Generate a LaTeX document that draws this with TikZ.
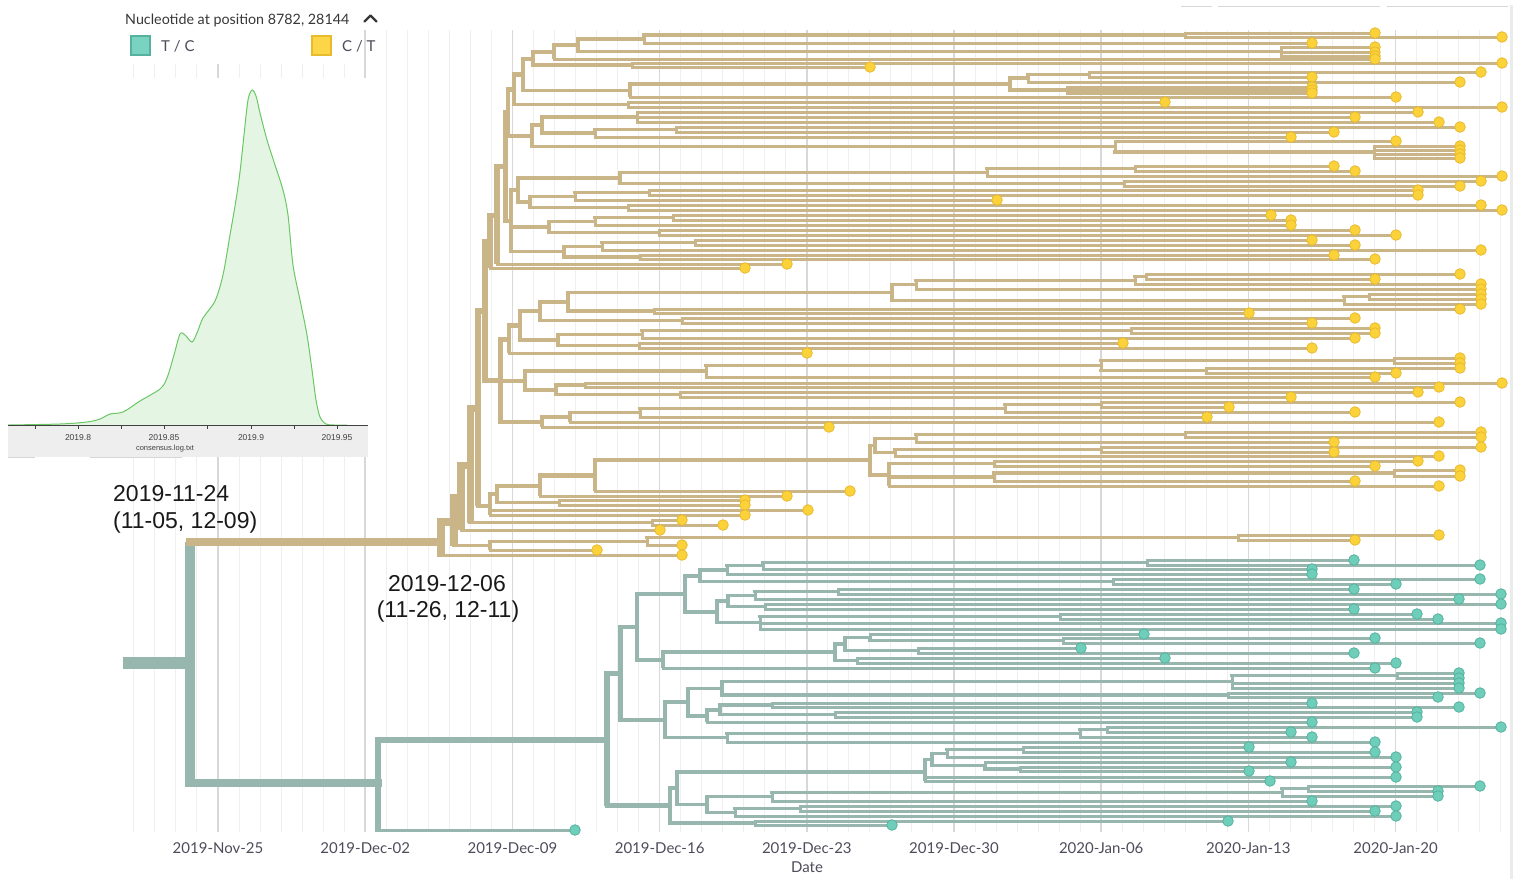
\documentclass[tikz,border=0pt]{standalone}
\usepackage{fontspec}
\newfontfamily\latofam{Lato}
\newfontfamily\arialfam{Liberation Sans}
\pgfdeclarelayer{dots}
\pgfsetlayers{main,dots}
\definecolor{tanc}{RGB}{201,181,135}
\definecolor{tealc}{RGB}{151,182,174}
\definecolor{ydotf}{RGB}{252,210,58}
\definecolor{ydotd}{RGB}{232,186,45}
\definecolor{tdotf}{RGB}{110,206,185}
\definecolor{tdotd}{RGB}{84,178,158}
\definecolor{gridminor}{RGB}{239,239,239}
\definecolor{gridmajor}{RGB}{216,216,216}
\definecolor{axtext}{RGB}{78,76,90}
\definecolor{headtext}{RGB}{55,55,55}
\definecolor{plotfill}{RGB}{229,245,227}
\definecolor{plotline}{RGB}{105,200,100}
\definecolor{axbar}{RGB}{238,238,238}
\definecolor{legT}{RGB}{122,211,192}
\definecolor{legY}{RGB}{253,214,72}
\newcommand\axfont{\latofam\fontsize{15}{18}\selectfont}
\newcommand\annfont{\arialfam\fontsize{23}{27}\selectfont}
\newcommand\TipB[4]{\draw[#1br] (#2,#4) -- (#3,#4);\begin{pgfonlayer}{dots}\draw[#1dot] (#3,#4) circle[radius=5.3pt];\end{pgfonlayer}}
\newcommand\HorB[5]{\draw[#1br, line width={(#2+0.2)*1pt}] (#3,#5) -- (#4,#5);}
\newcommand\VerB[5]{\draw[#1br, line cap=butt, line width={(#2)*1pt}] (#3,#4) -- (#3,#5);}
\tikzset{
 Ybr/.style={draw=tanc, line width=3pt, line cap=rect},
 Tbr/.style={draw=tealc, line width=3pt, line cap=rect},
 Ydot/.style={fill=ydotf, draw=ydotd, line width=0.8pt},
 Tdot/.style={fill=tdotf, draw=tdotd, line width=0.8pt},
 gmin/.style={draw=gridminor, line width=1pt},
 gmaj/.style={draw=gridmajor, line width=1.6pt},
 axlab/.style={font=\axfont, text=axtext, inner sep=0pt},
 ann/.style={font=\annfont, text=black!90, inner sep=0pt},
 small/.style={font=\arialfam\fontsize{8.5}{10}\selectfont, text=black!75, inner sep=0pt},
}
\begin{document}
\begin{tikzpicture}[x=1pt,y=-1pt]
\useasboundingbox (0,0) rectangle (1519,879);
\fill[white] (0,0) rectangle (1519,879);
% ---------- grid ----------
\foreach \k in {-4,...,61}{\pgfmathsetmacro\gx{218+21.028*\k}\draw[gmin] (\gx,30) -- (\gx,832);}
\foreach \k in {0,...,8}{\pgfmathsetmacro\gx{218+147.2*\k}\draw[gmaj] (\gx,30) -- (\gx,832);}
\draw[draw=black!8, line width=3pt] (1511,5) -- (1511,879);
\draw[draw=black!16, line width=1pt] (1181,6) -- (1212,6) (1218,6) -- (1380,6) (1387,6) -- (1508,6);
% axis labels
\foreach \lab [count=\i from 0] in {2019-Nov-25,2019-Dec-02,2019-Dec-09,2019-Dec-16,2019-Dec-23,2019-Dec-30,2020-Jan-06,2020-Jan-13,2020-Jan-20}
 {\node[axlab, anchor=base] (ax\i) at ({218+147.2*\i},853) {\lab};}
\node[axlab, anchor=base] (datelab) at (807,872) {Date};
% ---------- inset ----------
\fill[white] (110,28) rectangle (362,64);
\fill[white] (8,78) rectangle (368,425);
\fill[plotfill] plot[smooth, tension=0.5] coordinates {(8,425) (60,424) (87,422) (100,419) (110,414) (123,412) (140,401) (160,389) (167,378) (174,355) (180,334) (185,335) (192,342) (197,333) (203,318) (215,301) (223,275) (230,235) (236,200) (240,172) (244,135) (248,100) (252,90) (256,96) (260,113) (267,140) (275,165) (283,190) (288,215) (293,265) (300,300) (307,335) (312,370) (316,400) (320,417) (326,424) (334,425) (347,425)} -- cycle;
\draw[plotline, line width=1pt] plot[smooth, tension=0.5] coordinates {(8,425) (60,424) (87,422) (100,419) (110,414) (123,412) (140,401) (160,389) (167,378) (174,355) (180,334) (185,335) (192,342) (197,333) (203,318) (215,301) (223,275) (230,235) (236,200) (240,172) (244,135) (248,100) (252,90) (256,96) (260,113) (267,140) (275,165) (283,190) (288,215) (293,265) (300,300) (307,335) (312,370) (316,400) (320,417) (326,424) (334,425) (347,425)};
\fill[axbar] (8,425.5) rectangle (368,457);
\draw[black!75, line width=1pt] (8,425) -- (368,425);
\foreach \tx in {35,78,121,164,207,251,294,337}{\draw[black!75, line width=0.8pt] (\tx,425) -- (\tx,428.5);}
\foreach \tl/\tx in {2019.8/78,2019.85/164,2019.9/251,2019.95/337}{\node[small, anchor=base] (t\tx) at (\tx,440) {\tl};}
\node[small, anchor=base, font=\arialfam\fontsize{7.5}{9}\selectfont] (cons) at (165,450) {consensus.log.txt};
\draw[draw=black!16, line width=1.5pt] (8,457.5) -- (35,457.5) (90,457.5) -- (182,457.5);
\node[anchor=base west, inner sep=0pt, text=headtext, font=\latofam\fontsize{14.3}{16}\selectfont] (hdr) at (125,24) {Nucleotide at position 8782, 28144};
\draw[headtext, line width=2.4pt, line cap=round, line join=round] (364.5,21.5) -- (370.5,15.5) -- (376.5,21.5);
\node[draw=tdotd, fill=legT, minimum size=19pt, inner sep=0pt, line width=1.2pt] (sqT) at (140.5,45.5) {};
\node[anchor=base west, inner sep=0pt, text=axtext, font=\latofam\fontsize{15}{17}\selectfont] (labT) at (161,51) {T / C};
\node[draw=ydotd, fill=legY, minimum size=19pt, inner sep=0pt, line width=1.2pt] (sqY) at (321.5,45.5) {};
\node[anchor=base west, inner sep=0pt, text=axtext, font=\latofam\fontsize{15}{17}\selectfont] (labY) at (342,51) {C / T};
% ---------- yellow clade: group A ----------
\TipB{Y}{1185}{1375}{33}\TipB{Y}{1185}{1502}{37}\VerB{Y}{3}{1185}{33}{37}
\HorB{Y}{3}{644}{1185}{35}\TipB{Y}{644}{1312}{43}\VerB{Y}{3}{644}{35}{43}
\TipB{Y}{1281}{1375}{47}\TipB{Y}{1281}{1375}{52}\TipB{Y}{1281}{1375}{56}\VerB{Y}{3}{1281}{47}{56}
\HorB{Y}{3}{578}{644}{39}\HorB{Y}{3}{578}{1281}{51.5}\VerB{Y}{3.5}{578}{39}{51.5}
\HorB{Y}{3.5}{554}{578}{45}\TipB{Y}{554}{1375}{59}\VerB{Y}{3.5}{554}{45}{59}
\TipB{Y}{632}{1502}{63}\TipB{Y}{632}{870}{67}\VerB{Y}{3}{632}{63}{67}
\HorB{Y}{3.5}{533}{554}{52}\HorB{Y}{3}{533}{632}{65}\VerB{Y}{3.8}{533}{52}{65}
\TipB{Y}{1089}{1481}{72}\TipB{Y}{1089}{1312}{77}\VerB{Y}{3}{1089}{72}{77}
\HorB{Y}{3}{1028}{1089}{74.5}\TipB{Y}{1028}{1460}{82}\VerB{Y}{3}{1028}{74.5}{82}
\TipB{Y}{1067}{1312}{87}\TipB{Y}{1067}{1312}{90}\TipB{Y}{1067}{1312}{93}\VerB{Y}{3}{1067}{87}{93}
\HorB{Y}{3}{1010}{1028}{78}\HorB{Y}{3}{1010}{1067}{90}\VerB{Y}{3.5}{1010}{78}{90}
\HorB{Y}{3.5}{630}{1010}{84}\TipB{Y}{630}{1396}{97}\VerB{Y}{3.5}{630}{84}{97}
\HorB{Y}{3.8}{523}{533}{58.5}\HorB{Y}{3.5}{523}{630}{90.5}\VerB{Y}{4}{523}{58.5}{90.5}
\TipB{Y}{628}{1165}{102}\TipB{Y}{628}{1502}{107}\VerB{Y}{3}{628}{102}{107}
\HorB{Y}{4}{514}{523}{74.5}\HorB{Y}{3}{514}{628}{104.5}\VerB{Y}{4.3}{514}{74.5}{104.5}
% group B
\TipB{Y}{637}{1418}{112}\TipB{Y}{637}{1355}{117}\TipB{Y}{637}{1439}{122}\VerB{Y}{3}{637}{112}{122}
\TipB{Y}{676}{1460}{127}\TipB{Y}{676}{1334}{132}\VerB{Y}{3}{676}{127}{132}
\HorB{Y}{3}{595}{676}{129.5}\TipB{Y}{595}{1291}{137}\VerB{Y}{3}{595}{129.5}{137}
\HorB{Y}{3}{542}{637}{117}\HorB{Y}{3}{542}{595}{133}\VerB{Y}{3.5}{542}{117}{133}
\TipB{Y}{1374}{1460}{146}\TipB{Y}{1374}{1460}{150}\TipB{Y}{1374}{1460}{154}\TipB{Y}{1374}{1460}{158}\VerB{Y}{3}{1374}{146}{158}
\TipB{Y}{1115}{1396}{141}\HorB{Y}{3}{1115}{1374}{152}\VerB{Y}{3}{1115}{141}{152}
\HorB{Y}{3.5}{532}{542}{125}\HorB{Y}{3}{532}{1115}{146.5}\VerB{Y}{4}{532}{125}{146.5}
\HorB{Y}{4.3}{508}{514}{89.5}\HorB{Y}{4}{508}{532}{135.75}\VerB{Y}{4.5}{508}{89.5}{135.75}
% group C
\TipB{Y}{1135}{1334}{166}\TipB{Y}{1135}{1355}{171}\VerB{Y}{3}{1135}{166}{171}
\HorB{Y}{3}{987}{1135}{168.5}\TipB{Y}{987}{1502}{176}\VerB{Y}{3}{987}{168.5}{176}
\TipB{Y}{1124}{1481}{181}\TipB{Y}{1124}{1460}{186}\VerB{Y}{3}{1124}{181}{186}
\HorB{Y}{3}{620}{987}{172.25}\HorB{Y}{3}{620}{1124}{183.5}\VerB{Y}{3.5}{620}{172.25}{183.5}
\TipB{Y}{649}{1418}{190}\TipB{Y}{649}{1418}{195}\VerB{Y}{3}{649}{190}{195}
\HorB{Y}{3}{575}{649}{192.5}\TipB{Y}{575}{997}{200}\VerB{Y}{3}{575}{192.5}{200}
\TipB{Y}{628}{1481}{205}\TipB{Y}{628}{1502}{210}\VerB{Y}{3}{628}{205}{210}
\HorB{Y}{3}{530}{575}{196.25}\HorB{Y}{3}{530}{628}{207.5}\VerB{Y}{3.5}{530}{196.25}{207.5}
\HorB{Y}{3.5}{518}{620}{177.9}\HorB{Y}{3.5}{518}{530}{201.9}\VerB{Y}{4}{518}{177.9}{201.9}
\TipB{Y}{673}{1271}{215}\TipB{Y}{673}{1291}{220}\VerB{Y}{3}{673}{215}{220}
\HorB{Y}{3}{595}{673}{217.5}\TipB{Y}{595}{1291}{225}\VerB{Y}{3}{595}{217.5}{225}
\TipB{Y}{659}{1355}{230}\TipB{Y}{659}{1396}{235}\VerB{Y}{3}{659}{230}{235}
\HorB{Y}{3}{549}{595}{221.25}\HorB{Y}{3}{549}{659}{232.5}\VerB{Y}{3.5}{549}{221.25}{232.5}
\TipB{Y}{695}{1312}{240}\TipB{Y}{695}{1355}{245}\VerB{Y}{3}{695}{240}{245}
\HorB{Y}{3}{602}{695}{242.5}\TipB{Y}{602}{1481}{250}\VerB{Y}{3}{602}{242.5}{250}
\TipB{Y}{640}{1334}{255}\TipB{Y}{640}{1375}{259}\VerB{Y}{3}{640}{255}{259}
\HorB{Y}{3}{564}{602}{246.25}\HorB{Y}{3}{564}{640}{257}\VerB{Y}{3.5}{564}{246.25}{257}
\HorB{Y}{4}{511}{518}{189.9}\HorB{Y}{3.5}{511}{549}{226.9}\HorB{Y}{3.5}{511}{564}{251.6}\VerB{Y}{4.3}{511}{189.9}{251.6}
% group D
\TipB{Y}{1146}{1460}{274}\TipB{Y}{1146}{1375}{279}\VerB{Y}{3}{1146}{274}{279}
\HorB{Y}{3}{1135}{1146}{276.5}\TipB{Y}{1135}{1481}{284}\VerB{Y}{3}{1135}{276.5}{284}
\HorB{Y}{3}{916}{1135}{280.25}\TipB{Y}{916}{1481}{289}\VerB{Y}{3}{916}{280.25}{289}
\TipB{Y}{1369}{1481}{294}\TipB{Y}{1369}{1481}{299}\VerB{Y}{3}{1369}{294}{299}
\HorB{Y}{3}{1344}{1369}{296.5}\TipB{Y}{1344}{1481}{304}\VerB{Y}{3}{1344}{296.5}{304}
\HorB{Y}{3}{892}{916}{284.6}\HorB{Y}{3}{892}{1344}{300.25}\VerB{Y}{3.5}{892}{284.6}{300.25}
\TipB{Y}{654}{1460}{309}\TipB{Y}{654}{1249}{313}\VerB{Y}{3}{654}{309}{313}
\HorB{Y}{3.5}{568}{892}{292.4}\HorB{Y}{3}{568}{654}{311}\VerB{Y}{3.5}{568}{292.4}{311}
\TipB{Y}{682}{1355}{318}\TipB{Y}{682}{1312}{323}\VerB{Y}{3}{682}{318}{323}
\HorB{Y}{3.5}{540}{568}{301.7}\HorB{Y}{3}{540}{682}{320.5}\VerB{Y}{3.8}{540}{301.7}{320.5}
\TipB{Y}{1131}{1375}{328}\TipB{Y}{1131}{1375}{333}\VerB{Y}{3}{1131}{328}{333}
\HorB{Y}{3}{642}{1131}{330.5}\TipB{Y}{642}{1355}{338}\VerB{Y}{3}{642}{330.5}{338}
\TipB{Y}{639}{1123}{343}\TipB{Y}{639}{1312}{348}\VerB{Y}{3}{639}{343}{348}
\HorB{Y}{3}{558}{642}{334.25}\HorB{Y}{3}{558}{639}{345.5}\VerB{Y}{3.5}{558}{334.25}{345.5}
\HorB{Y}{3.8}{520}{540}{311.1}\HorB{Y}{3.5}{520}{558}{339.9}\VerB{Y}{4.2}{520}{311.1}{339.9}
\HorB{Y}{4.2}{509}{520}{325.5}\TipB{Y}{509}{807}{353}\VerB{Y}{4.3}{509}{325.5}{353}
\TipB{Y}{1394}{1460}{358}\TipB{Y}{1394}{1460}{363}\VerB{Y}{3}{1394}{358}{363}
\TipB{Y}{1206}{1460}{368}\TipB{Y}{1206}{1396}{373}\VerB{Y}{3}{1206}{368}{373}
\HorB{Y}{3}{1101}{1394}{360.5}\HorB{Y}{3}{1101}{1206}{370.5}\VerB{Y}{3}{1101}{360.5}{370.5}
\HorB{Y}{3}{706}{1101}{365.5}\TipB{Y}{706}{1375}{377}\VerB{Y}{3}{706}{365.5}{377}
\TipB{Y}{585}{1502}{383}\TipB{Y}{585}{1439}{387}\VerB{Y}{3}{585}{383}{387}
\TipB{Y}{680}{1418}{392}\TipB{Y}{680}{1291}{397}\VerB{Y}{3}{680}{392}{397}
\HorB{Y}{3}{556}{585}{385}\HorB{Y}{3}{556}{680}{394.5}\VerB{Y}{3.5}{556}{385}{394.5}
\HorB{Y}{3.5}{525}{706}{371.25}\HorB{Y}{3.5}{525}{556}{389.75}\VerB{Y}{3.8}{525}{371.25}{389.75}
\TipB{Y}{1101}{1460}{402}\TipB{Y}{1101}{1229}{407}\VerB{Y}{3}{1101}{402}{407}
\HorB{Y}{3}{1005}{1101}{404.5}\TipB{Y}{1005}{1355}{412}\VerB{Y}{3}{1005}{404.5}{412}
\HorB{Y}{3}{640}{1005}{408.25}\TipB{Y}{640}{1207}{417}\VerB{Y}{3}{640}{408.25}{417}
\HorB{Y}{3}{570}{640}{412.6}\TipB{Y}{570}{1439}{422}\VerB{Y}{3.5}{570}{412.6}{422}
\HorB{Y}{3.5}{542}{570}{417.3}\TipB{Y}{542}{829}{427}\VerB{Y}{3.5}{542}{417.3}{427}
\HorB{Y}{4.3}{500}{509}{339.25}\HorB{Y}{3.8}{500}{525}{380.5}\HorB{Y}{3.5}{500}{542}{422.15}\VerB{Y}{5}{500}{339.25}{422.15}
% group E
\TipB{Y}{1185}{1481}{432}\TipB{Y}{1185}{1481}{437}\VerB{Y}{3}{1185}{432}{437}
\HorB{Y}{3}{916}{1185}{434.5}\TipB{Y}{916}{1334}{442}\VerB{Y}{3}{916}{434.5}{442}
\TipB{Y}{1101}{1481}{447}\TipB{Y}{1101}{1334}{452}\VerB{Y}{3}{1101}{447}{452}
\HorB{Y}{3}{895}{1101}{449.5}\TipB{Y}{895}{1439}{456}\VerB{Y}{3}{895}{449.5}{456}
\HorB{Y}{3}{875}{916}{438.25}\HorB{Y}{3}{875}{895}{452.75}\VerB{Y}{3.5}{875}{438.25}{452.75}
\TipB{Y}{994}{1418}{461}\TipB{Y}{994}{1375}{466}\VerB{Y}{3}{994}{461}{466}
\TipB{Y}{1394}{1460}{470}\TipB{Y}{1394}{1460}{476}\VerB{Y}{3}{1394}{470}{476}
\HorB{Y}{3}{994}{1394}{473}\TipB{Y}{994}{1355}{481}\VerB{Y}{3}{994}{473}{481}
\HorB{Y}{3}{889}{994}{463.5}\HorB{Y}{3}{889}{994}{477}\TipB{Y}{889}{1439}{486}\VerB{Y}{3.5}{889}{463.5}{486}
\HorB{Y}{3.5}{870}{875}{445.5}\HorB{Y}{3.5}{870}{889}{474.75}\VerB{Y}{4}{870}{445.5}{474.75}
\HorB{Y}{4}{595}{870}{460.1}\TipB{Y}{595}{850}{491}\VerB{Y}{4}{595}{460.1}{491}
\HorB{Y}{4}{540}{595}{475.5}\TipB{Y}{540}{787}{496}\VerB{Y}{4}{540}{475.5}{496}
\TipB{Y}{559}{745}{500}\TipB{Y}{559}{745}{505}\VerB{Y}{3}{559}{500}{505}
\HorB{Y}{4}{497}{540}{485.75}\HorB{Y}{3}{497}{559}{502.5}\VerB{Y}{4.2}{497}{485.75}{502.5}
\HorB{Y}{4.2}{490}{497}{494.1}\TipB{Y}{490}{808}{510}\TipB{Y}{490}{745}{515}\VerB{Y}{4.3}{490}{494.1}{515}
% bottom
\TipB{Y}{652}{682}{520}\TipB{Y}{652}{723}{525}\VerB{Y}{3}{652}{520}{525}
\TipB{Y}{1238}{1439}{535}\TipB{Y}{1238}{1355}{540}\VerB{Y}{3}{1238}{535}{540}
\HorB{Y}{3}{647}{1238}{537.5}\TipB{Y}{647}{682}{545}\VerB{Y}{3}{647}{537.5}{545}
\HorB{Y}{3}{490}{647}{541.25}\TipB{Y}{490}{597}{550}\VerB{Y}{3.2}{490}{541.25}{550}
% ladder
\HorB{Y}{4.5}{505}{508}{112.6}\HorB{Y}{4.3}{505}{511}{221}\VerB{Y}{5}{505}{112.6}{221}
\HorB{Y}{5}{497}{505}{166.8}\TipB{Y}{497}{787}{264}\VerB{Y}{5.2}{497}{166.8}{264}
\HorB{Y}{5.2}{490}{497}{215.4}\TipB{Y}{490}{745}{268}\VerB{Y}{5.5}{490}{215.4}{268}
\HorB{Y}{5.5}{485}{490}{241.7}\HorB{Y}{5}{485}{500}{380.5}\VerB{Y}{6}{485}{241.7}{380.5}
\HorB{Y}{6}{478}{485}{311.1}\HorB{Y}{4.3}{478}{490}{506}\VerB{Y}{6.5}{478}{311.1}{506}
\HorB{Y}{6.5}{470}{478}{408.5}\HorB{Y}{3}{470}{652}{522.5}\VerB{Y}{7}{470}{408.5}{522.5}
\HorB{Y}{7}{461}{470}{465.5}\TipB{Y}{461}{660}{530}\VerB{Y}{7.5}{461}{465.5}{530}
\HorB{Y}{7.5}{454}{461}{497.75}\HorB{Y}{3.2}{454}{490}{545.6}\VerB{Y}{8}{454}{497.75}{545.6}
\HorB{Y}{8}{441}{454}{521.6}\TipB{Y}{441}{682}{555}\VerB{Y}{8.5}{441}{521.6}{556.5}
% ---------- teal clade ----------
\TipB{T}{1147}{1354}{560}\TipB{T}{1147}{1480}{565}\VerB{T}{3}{1147}{560}{565}
\HorB{T}{3}{763}{1147}{562.5}\TipB{T}{763}{1312}{569}\VerB{T}{3}{763}{562.5}{569}
\HorB{T}{3}{727}{763}{565.75}\TipB{T}{727}{1312}{574}\VerB{T}{3}{727}{565.75}{574}
\TipB{T}{1113}{1480}{579}\TipB{T}{1113}{1396}{584}\VerB{T}{3}{1113}{579}{584}
\HorB{T}{3}{700}{727}{569.9}\HorB{T}{3}{700}{1113}{581.5}\VerB{T}{3.5}{700}{569.9}{581.5}
\TipB{T}{838}{1354}{589}\TipB{T}{838}{1501}{594}\VerB{T}{3}{838}{589}{594}
\HorB{T}{3}{755}{838}{591.5}\TipB{T}{755}{1459}{599}\VerB{T}{3}{755}{591.5}{599}
\TipB{T}{765}{1501}{604}\TipB{T}{765}{1354}{609}\VerB{T}{3}{765}{604}{609}
\HorB{T}{3}{728}{755}{595.25}\HorB{T}{3}{728}{765}{606.5}\VerB{T}{3.5}{728}{595.25}{606.5}
\TipB{T}{1060}{1417}{614}\TipB{T}{1060}{1438}{619}\VerB{T}{3}{1060}{614}{619}
\HorB{T}{3}{760}{1060}{616.5}\TipB{T}{760}{1501}{623}\TipB{T}{760}{1501}{629}\VerB{T}{3}{760}{616.5}{629}
\HorB{T}{3.5}{717}{728}{600.9}\HorB{T}{3}{717}{760}{622.75}\VerB{T}{3.8}{717}{600.9}{622.75}
\HorB{T}{3.5}{685}{700}{575.7}\HorB{T}{3.8}{685}{717}{611.8}\VerB{T}{4.2}{685}{575.7}{611.8}
\TipB{T}{1063}{1375}{638}\TipB{T}{1063}{1480}{643}\VerB{T}{3}{1063}{638}{643}
\TipB{T}{870}{1144}{634}\HorB{T}{3}{870}{1063}{640.5}\VerB{T}{3}{870}{634}{640.5}
\TipB{T}{918}{1081}{648}\TipB{T}{918}{1354}{653}\VerB{T}{3}{918}{648}{653}
\HorB{T}{3}{845}{870}{637.25}\HorB{T}{3}{845}{918}{650.5}\VerB{T}{3.5}{845}{637.25}{650.5}
\TipB{T}{857}{1165}{658}\TipB{T}{857}{1396}{663}\VerB{T}{3}{857}{658}{663}
\HorB{T}{3.5}{835}{845}{643.9}\HorB{T}{3}{835}{857}{660.5}\VerB{T}{3.5}{835}{643.9}{660.5}
\HorB{T}{3.5}{663}{835}{652.2}\TipB{T}{663}{1375}{668}\VerB{T}{3.8}{663}{652.2}{668}
\HorB{T}{4.2}{637}{685}{593.75}\HorB{T}{3.8}{637}{663}{660.1}\VerB{T}{4.5}{637}{593.75}{660.1}
\TipB{T}{1397}{1459}{673}\TipB{T}{1397}{1459}{678}\VerB{T}{3}{1397}{673}{678}
\HorB{T}{3}{1232}{1397}{675.5}\TipB{T}{1232}{1459}{683}\TipB{T}{1232}{1459}{688}\VerB{T}{3}{1232}{675.5}{688}
\TipB{T}{1228}{1480}{693}\TipB{T}{1228}{1438}{697}\VerB{T}{3}{1228}{693}{697}
\HorB{T}{3}{722}{1232}{681.75}\HorB{T}{3}{722}{1228}{695}\VerB{T}{3.5}{722}{681.75}{695}
\TipB{T}{772}{1312}{703}\TipB{T}{772}{1459}{707}\VerB{T}{3}{772}{703}{707}
\TipB{T}{835}{1417}{712}\TipB{T}{835}{1417}{717}\VerB{T}{3}{835}{712}{717}
\HorB{T}{3}{720}{772}{705}\HorB{T}{3}{720}{835}{714.5}\VerB{T}{3.5}{720}{705}{714.5}
\HorB{T}{3.5}{707}{720}{709.75}\TipB{T}{707}{1312}{722}\VerB{T}{3.5}{707}{709.75}{722}
\HorB{T}{3.5}{688}{722}{688.4}\HorB{T}{3.5}{688}{707}{715.9}\VerB{T}{3.8}{688}{688.4}{715.9}
\TipB{T}{1107}{1501}{727}\TipB{T}{1107}{1291}{732}\VerB{T}{3}{1107}{727}{732}
\HorB{T}{3}{1080}{1107}{729.5}\TipB{T}{1080}{1312}{737}\VerB{T}{3}{1080}{729.5}{737}
\HorB{T}{3}{727}{1080}{733.25}\TipB{T}{727}{1375}{742}\VerB{T}{3}{727}{733.25}{742}
\HorB{T}{3.8}{665}{688}{702.1}\HorB{T}{3.2}{665}{727}{737.6}\VerB{T}{4.2}{665}{702.1}{737.6}
\HorB{T}{4.5}{620}{637}{626.9}\HorB{T}{4.2}{620}{665}{719.85}\VerB{T}{5}{620}{626.9}{719.85}
\TipB{T}{1023}{1249}{747}\TipB{T}{1023}{1375}{752}\VerB{T}{3}{1023}{747}{752}
\HorB{T}{3}{947}{1023}{749.5}\TipB{T}{947}{1396}{757}\VerB{T}{3}{947}{749.5}{757}
\TipB{T}{1020}{1396}{767}\TipB{T}{1020}{1249}{771}\VerB{T}{3}{1020}{767}{771}
\TipB{T}{985}{1291}{762}\HorB{T}{3}{985}{1020}{769}\VerB{T}{3}{985}{762}{769}
\HorB{T}{3}{932}{947}{753.25}\HorB{T}{3}{932}{985}{765.5}\VerB{T}{3.5}{932}{753.25}{765.5}
\HorB{T}{3.5}{925}{932}{759.4}\TipB{T}{925}{1396}{777}\TipB{T}{925}{1270}{781}\VerB{T}{3.5}{925}{759.4}{781}
\TipB{T}{1308}{1480}{786}\TipB{T}{1308}{1438}{791}\VerB{T}{3}{1308}{786}{791}
\HorB{T}{3}{1282}{1308}{788.5}\TipB{T}{1282}{1438}{796}\VerB{T}{3}{1282}{788.5}{796}
\HorB{T}{3}{772}{1282}{792.25}\TipB{T}{772}{1312}{801}\VerB{T}{3}{772}{792.25}{801}
\TipB{T}{800}{1396}{806}\TipB{T}{800}{1375}{811}\VerB{T}{3}{800}{806}{811}
\HorB{T}{3}{735}{800}{808.5}\TipB{T}{735}{1396}{816}\VerB{T}{3}{735}{808.5}{816}
\HorB{T}{3}{707}{772}{796.6}\HorB{T}{3}{707}{735}{812.25}\VerB{T}{3.5}{707}{796.6}{812.25}
\HorB{T}{3.5}{677}{925}{772}\HorB{T}{3.5}{677}{707}{804.4}\VerB{T}{4}{677}{772}{804.4}
\TipB{T}{755}{1228}{821}\TipB{T}{755}{892}{825}\VerB{T}{3}{755}{821}{825}
\HorB{T}{4}{670}{677}{788.2}\HorB{T}{3}{670}{755}{823}\VerB{T}{4.3}{670}{788.2}{823}
\HorB{T}{5}{607}{620}{673.4}\HorB{T}{4.3}{607}{670}{805.6}\VerB{T}{6}{607}{673.4}{805.6}
\HorB{T}{6}{378}{607}{740}\TipB{T}{378}{575}{830}\VerB{T}{6.5}{378}{737}{831.5}
\HorB{T}{7.5}{190}{378}{783}
\VerB{T}{10.5}{190}{542}{786.5}
\HorB{Y}{8.5}{190}{441}{542}
\draw[tealc, line width=12pt] (123,663) -- (191,663);
% ---------- annotations ----------
\node[ann, anchor=base west] (a1) at (113,501) {2019-11-24};
\node[ann, anchor=base west] (a2) at (113,528) {(11-05, 12-09)};
\node[ann, anchor=base] (b1) at (447,591) {2019-12-06};
\node[ann, anchor=base] (b2) at (448,617) {(11-26, 12-11)};
\end{tikzpicture}
\end{document}
